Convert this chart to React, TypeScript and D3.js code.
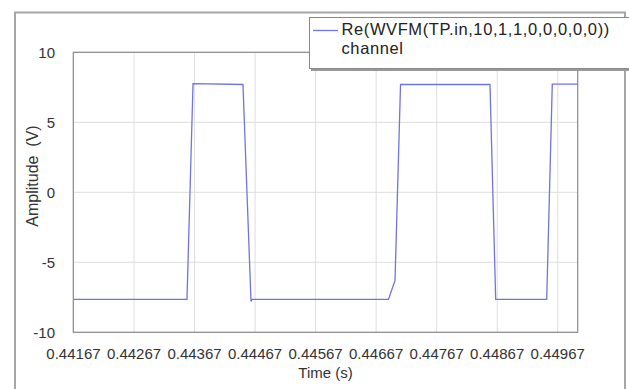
import React, { useEffect, useRef } from "react"
import * as d3 from "d3"

// waveform samples
const times = [
    0.441667, 0.443545, 0.443645, 0.44447, 0.444603, 0.44462, 0.446874,
    0.446982, 0.447073, 0.448551, 0.448645, 0.449488, 0.44958, 0.45,
]
const amps = [
    -7.65, -7.65, 7.76, 7.7, -7.8, -7.65, -7.65, -6.3, 7.7, 7.7, -7.65, -7.65,
    7.72, 7.72,
]
const xTicks = [
    0.44167, 0.44267, 0.44367, 0.44467, 0.44567, 0.44667, 0.44767, 0.44867,
    0.44967,
]
const yTicks = [-10, -5, 0, 5, 10]
const seriesName = "Re(WVFM(TP.in,10,1,1,0,0,0,0,0))"
const seriesSub = "channel"

const W = 629
const H = 389
const font = "'Liberation Sans', Arial, sans-serif"

export default function App() {
    const ref = useRef<SVGSVGElement>(null)

    useEffect(() => {
        const svg = d3.select(ref.current)
        svg.selectAll("*").remove()

        const left = 73.3
        const right = 577.7
        const top = 52.3
        const bottom = 332.3

        const x = d3.scaleLinear().domain([0.441667, 0.45]).range([left, right])
        const y = d3.scaleLinear().domain([-10, 10]).range([bottom, top])

        svg.append("rect").attr("width", W).attr("height", H).attr("fill", "#fff")

        // outer frame
        svg.append("rect")
            .attr("x", 15)
            .attr("y", 12.5)
            .attr("width", 610)
            .attr("height", 400)
            .attr("fill", "none")
            .attr("stroke", "#a6a6a6")
            .attr("stroke-width", 2)

        // grid
        svg.append("g")
            .selectAll("line")
            .data(xTicks)
            .enter()
            .append("line")
            .attr("x1", d => x(d))
            .attr("x2", d => x(d))
            .attr("y1", top)
            .attr("y2", bottom)
            .attr("stroke", "#dedede")
        svg.append("g")
            .selectAll("line")
            .data(yTicks)
            .enter()
            .append("line")
            .attr("x1", left)
            .attr("x2", right)
            .attr("y1", d => y(d))
            .attr("y2", d => y(d))
            .attr("stroke", "#dedede")

        // waveform
        const pts = times.map((t, i) => [t, amps[i]] as [number, number])
        const line = d3.line<[number, number]>().x(d => x(d[0])).y(d => y(d[1]))
        svg.append("path")
            .attr("d", line(pts))
            .attr("fill", "none")
            .attr("stroke", "#7174dc")
            .attr("stroke-width", 1.3)

        // plot border
        svg.append("rect")
            .attr("x", left)
            .attr("y", top)
            .attr("width", right - left)
            .attr("height", bottom - top)
            .attr("fill", "none")
            .attr("stroke", "#8a8a8a")
            .attr("stroke-width", 1.2)

        // tick labels
        svg.append("g")
            .selectAll("text")
            .data(xTicks)
            .enter()
            .append("text")
            .attr("x", d => x(d))
            .attr("y", 359)
            .attr("text-anchor", "middle")
            .attr("font-family", font)
            .attr("font-size", 15)
            .attr("fill", "#333")
            .text(d => d3.format(".5f")(d))
        svg.append("g")
            .selectAll("text")
            .data(yTicks)
            .enter()
            .append("text")
            .attr("x", 55)
            .attr("y", d => y(d))
            .attr("dy", "0.35em")
            .attr("text-anchor", "end")
            .attr("font-family", font)
            .attr("font-size", 15)
            .attr("fill", "#333")
            .text(d => d)

        // axis titles
        svg.append("text")
            .attr("x", (left + right) / 2)
            .attr("y", 378)
            .attr("text-anchor", "middle")
            .attr("font-family", font)
            .attr("font-size", 15)
            .attr("fill", "#333")
            .text("Time (s)")
        svg.append("text")
            .attr("transform", "translate(38,176) rotate(-90)")
            .attr("text-anchor", "middle")
            .attr("font-family", font)
            .attr("font-size", 16)
            .attr("fill", "#333")
            .text("Amplitude\u00a0\u00a0(V)")

        // legend
        svg.append("rect")
            .attr("x", 311)
            .attr("y", 19)
            .attr("width", 330)
            .attr("height", 52)
            .attr("fill", "#9a9a9a")
        svg.append("rect")
            .attr("x", 309.5)
            .attr("y", 17.5)
            .attr("width", 330)
            .attr("height", 51)
            .attr("fill", "#fff")
            .attr("stroke", "#888")
        svg.append("line")
            .attr("x1", 313)
            .attr("x2", 338)
            .attr("y1", 30.5)
            .attr("y2", 30.5)
            .attr("stroke", "#7174dc")
            .attr("stroke-width", 1.3)
        svg.append("text")
            .attr("x", 341.5)
            .attr("y", 35)
            .attr("font-family", font)
            .attr("font-size", 16.5)
            .attr("letter-spacing", 0.6)
            .attr("fill", "#222")
            .text(seriesName)
        svg.append("text")
            .attr("x", 341.5)
            .attr("y", 53.5)
            .attr("font-family", font)
            .attr("font-size", 16.5)
            .attr("letter-spacing", 0.6)
            .attr("fill", "#222")
            .text(seriesSub)
    }, [])

    return (
        <svg
            ref={ref}
            width={W}
            height={H}
            style={{ position: "absolute", left: 0, top: 0, display: "block" }}
        />
    )
}
